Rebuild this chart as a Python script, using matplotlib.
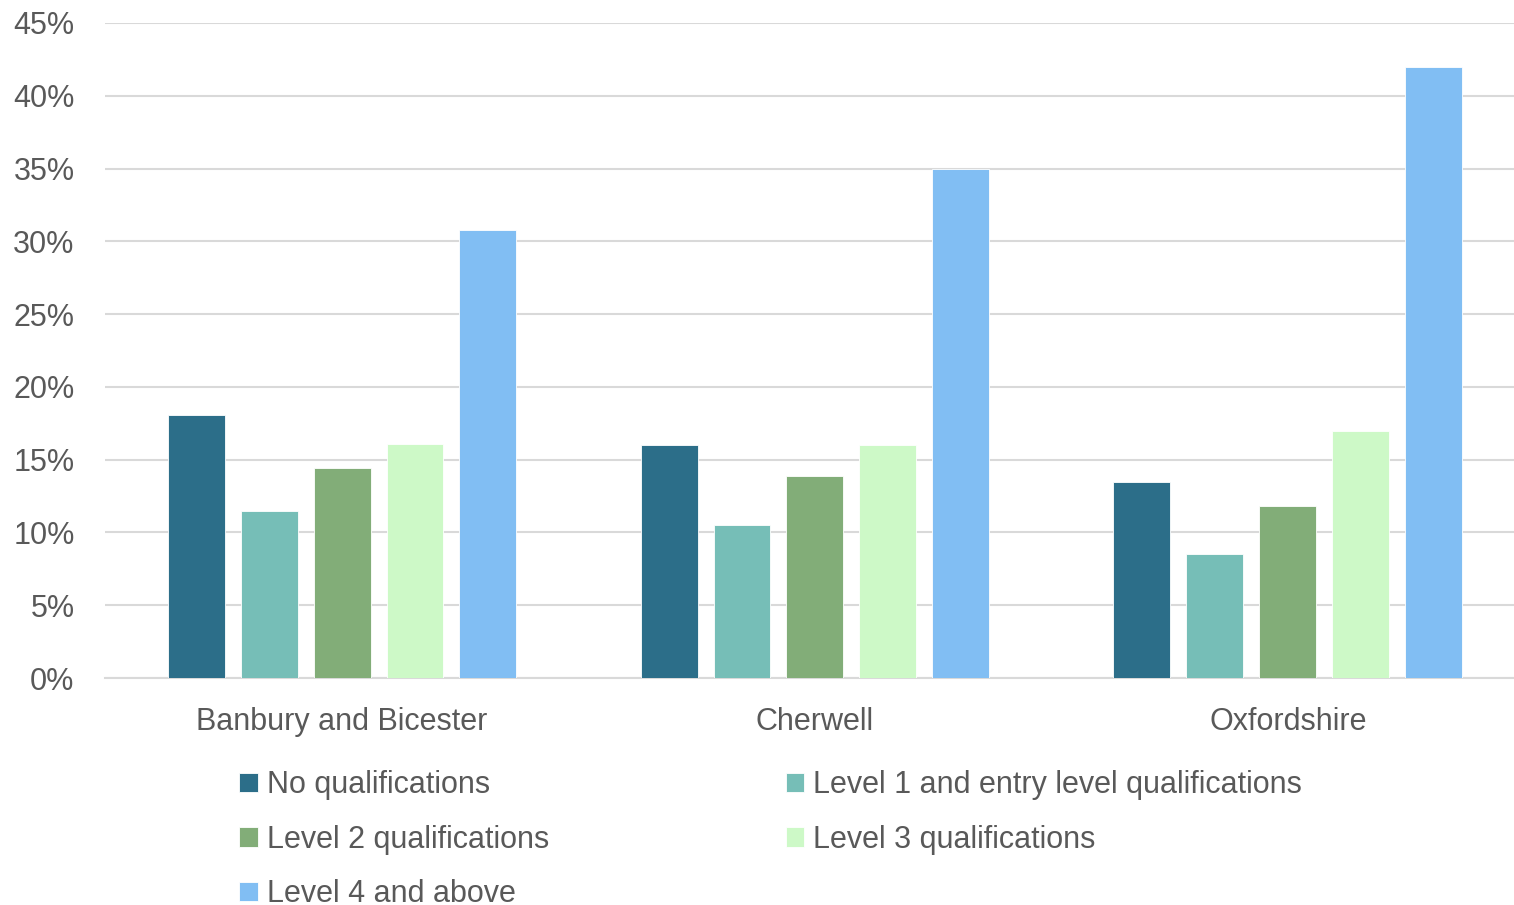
import matplotlib
matplotlib.use("Agg")
import matplotlib.pyplot as plt
import numpy as np
from matplotlib.ticker import PercentFormatter

plt.rcParams['font.family'] = ['Liberation Sans', 'DejaVu Sans']

areas = ["Banbury and Bicester", "Cherwell", "Oxfordshire"]
levels = ["No qualifications", "Level 1 and entry level qualifications",
          "Level 2 qualifications", "Level 3 qualifications", "Level 4 and above"]
shares = {                                   # % of residents aged 16+, by area
    "Banbury and Bicester": [18.1, 11.5, 14.4, 16.1, 30.8],
    "Cherwell": [16.0, 10.5, 13.9, 16.0, 35.0],
    "Oxfordshire": [13.5, 8.5, 11.8, 17.0, 42.0],
}
colours = ["#2C6E89", "#76BEB7", "#82AD78", "#CDF9C7", "#81BEF3"]

grey = "#595959"
fig = plt.figure(figsize=(15.14, 9.05), dpi=100)
ax = fig.add_axes([0.0694, 0.2508, 0.9306, 0.7238])

x = np.arange(len(areas))
width = 0.1205
step = 0.1543
for i, lvl in enumerate(levels):
    vals = [shares[a][i] for a in areas]
    ax.bar(x + (i - 2) * step, vals, width, color=colours[i], label=lvl,
           edgecolor="white", linewidth=0.6, zorder=3)

ax.set_xlim(-0.501, 2.478)
ax.set_ylim(0, 45)
ax.set_yticks(np.arange(0, 46, 5))
ax.yaxis.set_major_formatter(PercentFormatter(decimals=0))
ax.set_xticks(x)
ax.set_xticklabels(areas)
ax.grid(axis="y", color="#D9D9D9", linewidth=1.5, zorder=0)
for s in ["top", "right", "left"]:
    ax.spines[s].set_visible(False)
ax.spines["bottom"].set_color("#D9D9D9")
ax.spines["bottom"].set_linewidth(1.5)
ax.tick_params(axis="both", length=0, labelsize=22, labelcolor=grey)
ax.tick_params(axis="y", pad=22)
ax.tick_params(axis="x", pad=21)

# legend reads row by row: reorder so the two columns fill across
handles, labels = ax.get_legend_handles_labels()
order = [0, 2, 4, 1, 3]
leg = fig.legend([handles[k] for k in order], [labels[k] for k in order],
                 loc="upper left", bbox_to_anchor=(0.158, 0.149), ncol=2,
                 frameon=False, fontsize=22, handlelength=0.6, handleheight=0.6,
                 handletextpad=0.3, columnspacing=7.75, labelspacing=0.80,
                 borderpad=0, borderaxespad=0)
for t in leg.get_texts():
    t.set_color(grey)

fig.savefig("out.png", dpi=100)
